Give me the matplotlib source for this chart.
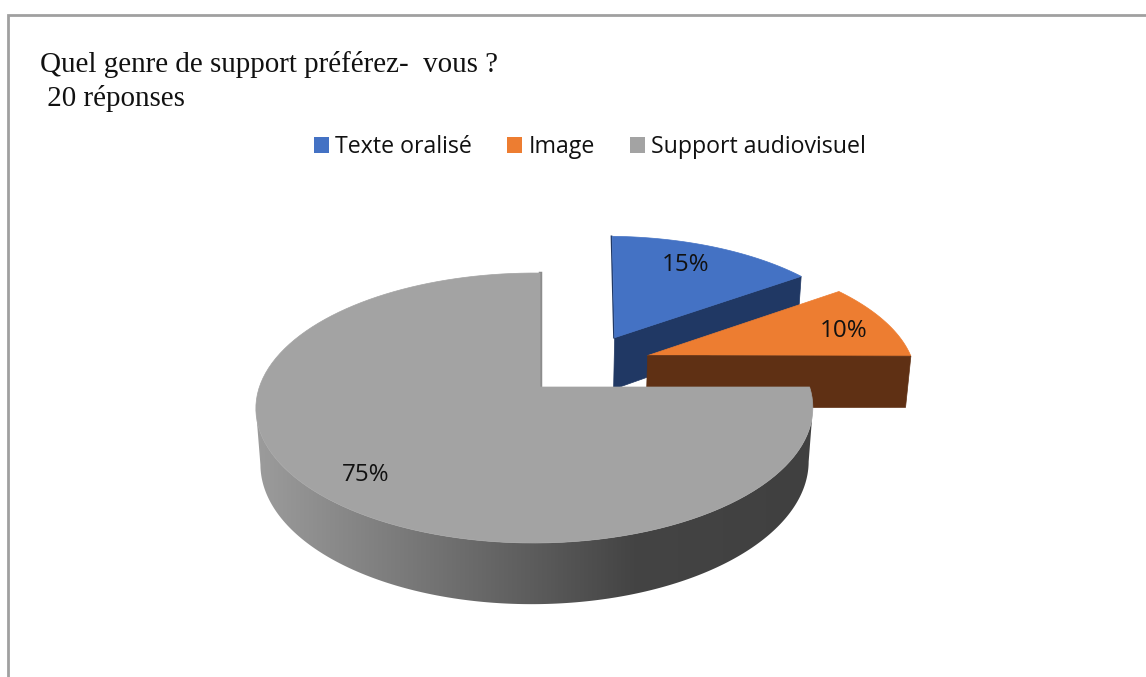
import numpy as np
import matplotlib
matplotlib.use("Agg")
import matplotlib.pyplot as plt
from matplotlib.patches import Polygon, Patch
from matplotlib.colors import LinearSegmentedColormap

categories = ["Texte oralisé", "Image", "Support audiovisuel"]
values = [15, 10, 75]
labels = ["15%", "10%", "75%"]
title_lines = ["Quel genre de support préférez-  vous ?", " 20 réponses"]

top_colors = ["#4472C4", "#ED7D31", "#A3A3A3"]
cut_colors = ["#203864", "#5F3014", "#8C8C8C"]
explode = [(0.29, 0.40), (0.41, 0.25), (0.0, 0.0)]
skews = [7.0, 5.0, 0.0]
radial_x = [1.0, 1.03, 1.0]
label_pos = [(686, 265), (844, 331), (366, 475)]

# projection of the unit-radius pie onto the page (pixel coordinates)
CX, CY = 540.0, 387.0
A, B, D = 275.0, 131.7, 55.0
K, M, N = 0.1556, 0.020, 0.0156


def project(u, v, z=0.0):
    w = 1 + K * np.asarray(v) + M * np.asarray(u) + N * np.asarray(z)
    return CX + A * np.asarray(u) / w, CY + (-B * np.asarray(v) + D * np.asarray(z)) / w


def slice_point(i, angle, z=0.0, radius=1.0):
    t = np.radians(angle)
    off = explode[i]
    dv = radius * np.cos(t)
    x, y = project(off[0] + radius * radial_x[i] * np.sin(t), off[1] + dv, z)
    return x + skews[i] * dv, y


def rim(i, a0, a1, z=0.0, n=120):
    return slice_point(i, np.linspace(a0, a1, n), z * np.ones(n))


fig = plt.figure(figsize=(11.46, 6.77), dpi=100)
ax = fig.add_axes([0, 0, 1, 1])
ax.axis("off")

# outer frame (clipped chart border)
ax.plot([8, 8, 1146], [677, 15, 15], color="#A0A0A0", lw=2, solid_joinstyle="miter")

edges = np.cumsum([0] + values) * 3.6
spans = list(zip(edges[:-1], edges[1:]))


def wedge(i, zorder):
    a0, a1 = spans[i]
    vx, vy = slice_point(i, 0.0, radius=0.0)
    rx, ry = rim(i, a0, a1)
    ax.add_patch(Polygon(np.column_stack([np.r_[vx, rx], np.r_[vy, ry]]),
                         closed=True, fc=top_colors[i], ec=top_colors[i], lw=0.5, zorder=zorder))


def cut_face(i, angle, zorder):
    x0, y0 = slice_point(i, angle, 0.0, radius=0.0)
    x1, y1 = slice_point(i, angle, 0.0)
    x2, y2 = slice_point(i, angle, 1.0)
    x3, y3 = slice_point(i, angle, 1.0, radius=0.0)
    ax.add_patch(Polygon([(x0, y0), (x1, y1), (x2, y2), (x3, y3)], closed=True,
                         fc=cut_colors[i], ec=cut_colors[i], lw=0.5, zorder=zorder))


def start_edge(i, dx, lw, zorder):
    x0, y0 = slice_point(i, 0.0, radius=0.0)
    x1, y1 = slice_point(i, 0.0)
    ax.plot([x0 + dx, x1 + dx], [y0, y1], color=cut_colors[i], lw=lw, zorder=zorder)


# Texte oralisé
cut_face(0, spans[0][1], 2)
start_edge(0, -0.7, 1.2, 2)
wedge(0, 3)

# Image
cut_face(1, spans[1][1], 5)
wedge(1, 4)

# Support audiovisuel: shaded outer wall (visible silhouette only) then top
side_cmap = LinearSegmentedColormap.from_list(
    "side", [(0.0, "#9C9C9C"), (0.25, "#7C7C7C"), (0.5, "#5C5C5C"), (0.68, "#444444"), (1.0, "#404040")])
xt, yt = rim(2, spans[2][0], 300, 0.0, n=400)
xb, yb = rim(2, spans[2][0], 300, 1.0, n=400)
it0, it1 = np.argmax(xt), np.argmin(xt)
ib0, ib1 = np.argmax(xb), np.argmin(xb)
wall = Polygon(np.column_stack([np.r_[xt[it0:it1 + 1], xb[ib0:ib1 + 1][::-1]],
                                np.r_[yt[it0:it1 + 1], yb[ib0:ib1 + 1][::-1]]]), closed=True,
               fc="none", ec="none", transform=ax.transData)
ax.add_patch(wall)
img = ax.imshow(np.linspace(0, 1, 512)[None, :], cmap=side_cmap, vmin=0, vmax=1, aspect="auto",
                extent=(256, 812, 680, 300), zorder=6, interpolation="bilinear")
img.set_clip_path(wall)
start_edge(2, 0.0, 2.5, 6)
wedge(2, 7)

ax.set_xlim(0, 1146)
ax.set_ylim(677, 0)

for s, (x, y) in zip(labels, label_pos):
    ax.text(x, y, s, ha="center", va="center", family="Open Sans", fontsize=17.4,
            color="#111111", zorder=9)

ax.text(40, 65, title_lines[0], family="Liberation Serif", fontsize=20.9,
        ha="left", va="center", color="#111111")
ax.text(40, 99, title_lines[1], family="Liberation Serif", fontsize=20.9,
        ha="left", va="center", color="#111111")

handles = [Patch(fc=c, ec="none") for c in top_colors]
ax.legend(handles, categories, loc="center", bbox_to_anchor=(590, 147),
          bbox_transform=ax.transData, ncols=3, frameon=False,
          prop={"family": "Open Sans", "size": 16.7}, labelcolor="#111111",
          handlelength=0.65, handleheight=0.65, handletextpad=0.28,
          columnspacing=1.5, borderpad=0)

fig.savefig("out.png", dpi=100, facecolor="white")
